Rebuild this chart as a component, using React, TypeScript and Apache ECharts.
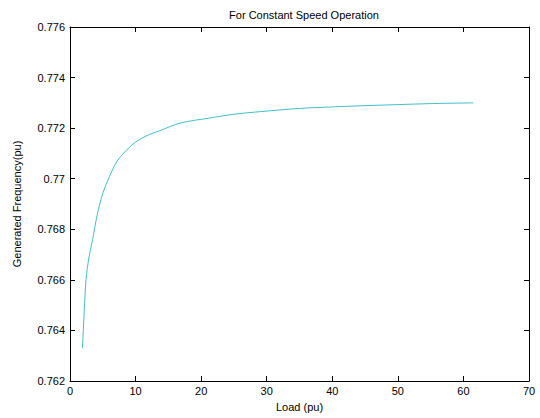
import React, { useEffect, useRef } from "react";
import * as echarts from "echarts";

const loadValues = [1.9, 2.03, 2.44, 2.9, 3.45, 4.17, 4.98, 5.7, 7.2, 8.9, 10, 11.7, 13.7, 16.8, 21.3, 25, 28.9, 35, 40, 45, 50, 55, 61.5];
const freqValues = [0.7633, 0.764, 0.766, 0.7669, 0.7676, 0.7686, 0.7694, 0.7699, 0.7707, 0.7712, 0.77145, 0.7717, 0.7719, 0.7722, 0.7724, 0.77255, 0.77265, 0.77278, 0.77284, 0.77289, 0.77293, 0.77297, 0.773];

const titleText = "For Constant Speed Operation";
const xName = "Load (pu)";
const yName = "Generated Frequency(pu)";

export default function App() {
  const ref = useRef<HTMLDivElement>(null);
  useEffect(() => {
    const chart = echarts.init(ref.current!, undefined, { renderer: "svg" });
    const font = "Liberation Sans, Arial, sans-serif";
    const axisCommon = {
      axisLine: { show: true, onZero: false, lineStyle: { color: "#000", width: 1 } },
      axisTick: { show: true, inside: true, length: 5, lineStyle: { color: "#000" } },
      splitLine: { show: false },
    };
    chart.setOption({
      animation: false,
      backgroundColor: "#fff",
      title: {
        text: titleText,
        left: 299,
        textAlign: "center",
        top: 4,
        textStyle: { fontSize: 11, fontWeight: "normal", color: "#000", fontFamily: font },
      },
      grid: { left: 70, right: 11, top: 27, bottom: 37 },
      xAxis: [
        {
          type: "value",
          min: 0,
          max: 70,
          interval: 10,
          position: "bottom",
          name: xName,
          nameLocation: "middle",
          nameGap: 20,
          nameTextStyle: { fontSize: 11, color: "#000", fontFamily: font },
          axisLabel: { fontSize: 11, color: "#000", fontFamily: font, margin: 4 },
          ...axisCommon,
        },
        {
          type: "value",
          min: 0,
          max: 70,
          interval: 10,
          position: "top",
          axisLabel: { show: false },
          ...axisCommon,
        },
      ],
      yAxis: [
        {
          type: "value",
          min: 0.762,
          max: 0.776,
          interval: 0.002,
          position: "left",
          name: yName,
          nameLocation: "middle",
          nameGap: 48,
          nameTextStyle: { fontSize: 11, color: "#000", fontFamily: font },
          axisLabel: {
            fontSize: 11,
            color: "#000",
            fontFamily: font,
            margin: 5,
            formatter: (v: number) => String(parseFloat(v.toFixed(3))),
          },
          ...axisCommon,
        },
        {
          type: "value",
          min: 0.762,
          max: 0.776,
          interval: 0.002,
          position: "right",
          axisLabel: { show: false },
          ...axisCommon,
        },
      ],
      series: [
        {
          type: "line",
          data: loadValues.map((x, i) => [x, freqValues[i]]),
          showSymbol: false,
          smooth: 0.3,
          lineStyle: { color: "#3fbfcc", width: 1 },
          itemStyle: { color: "#3fbfcc" },
        },
      ],
    });
    return () => chart.dispose();
  }, []);
  return <div ref={ref} style={{ width: 540, height: 418, position: "absolute", left: 0, top: 0 }} />;
}
